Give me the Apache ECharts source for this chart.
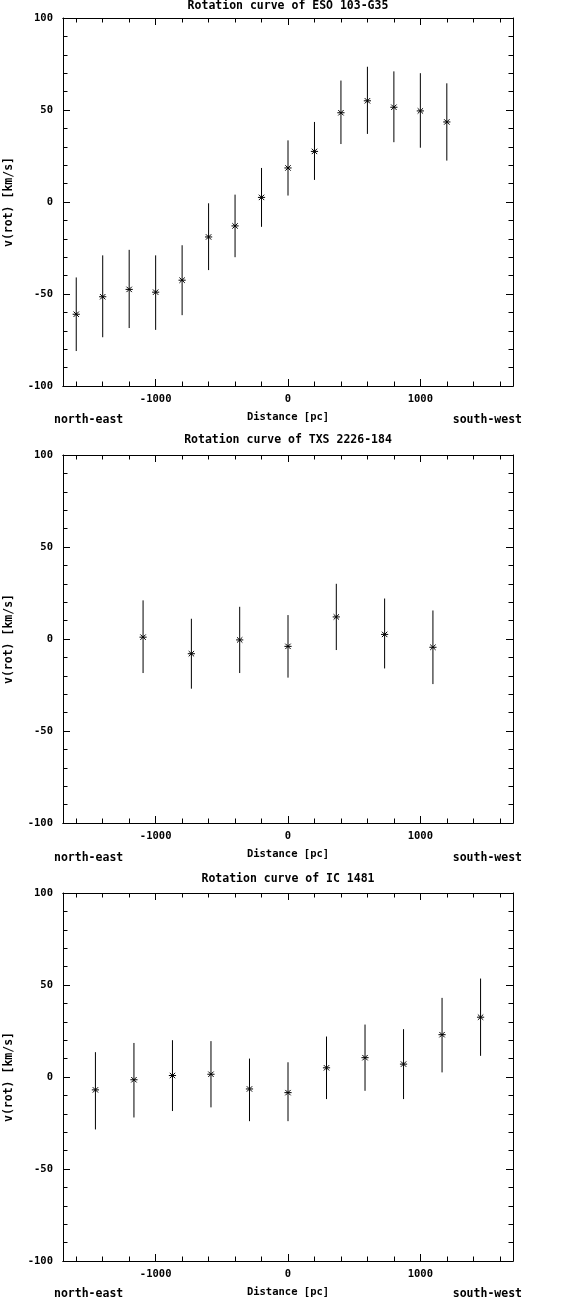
<!doctype html>
<html>
    <head>
        <meta charset="utf-8">
        <title>Rotation curves</title>
        <style>
            html, body { margin: 0; padding: 0; background: #fff; }
            #main { width: 582px; height: 1299px; }
        </style>
    </head>
    <body>
        <div id="main"></div>
        <script src="https://cdn.jsdelivr.net/npm/echarts@6/dist/echarts.min.js"></script>
        <script>

            // ESO 103-G35
            var esoDist = [-1600, -1400, -1200, -1000, -800, -600, -400, -200, 0, 200, 400, 600, 800, 1000, 1200];
            var esoVel  = [-61, -51.5, -47.5, -49, -42.5, -19, -13, 2.5, 18.5, 27.5, 48.5, 55, 51.5, 49.5, 43.5];
            var esoLow  = [-81, -73.5, -68.5, -69.5, -61.5, -37, -30, -13.5, 3.5, 12, 31.5, 37, 32.5, 29.5, 22.5];
            var esoHigh = [-41, -29, -26, -29, -23.5, -0.7, 4, 18.5, 33.5, 43.5, 66, 73.5, 71, 70, 64.5];

            // TXS 2226-184
            var txsDist = [-1095, -730, -365, 0, 365, 730, 1095];
            var txsVel  = [1, -8, -0.5, -4, 12, 2.5, -4.5];
            var txsLow  = [-18.5, -27, -18.5, -21, -6, -16, -24.5];
            var txsHigh = [21, 11, 17.5, 13, 30, 22, 15.5];

            // IC 1481
            var icDist = [-1455, -1164, -873, -582, -291, 0, 291, 582, 873, 1164, 1455];
            var icVel  = [-7, -1.5, 0.8, 1.5, -6.5, -8.5, 5, 10.5, 7, 23, 32.5];
            var icLow  = [-28.5, -22, -18.5, -16.5, -24, -24, -12, -7.5, -12, 2.5, 11.5];
            var icHigh = [13.5, 18.5, 20, 19.5, 10, 8, 22, 28.5, 26, 43, 53.5];

            var titles = ['Rotation curve of ESO 103-G35', 'Rotation curve of TXS 2226-184', 'Rotation curve of IC 1481'];
            var xMajorTicks = [-1000, 0, 1000];
            var xMinorTicks = [-1600, -1400, -1200, -1000, -800, -600, -400, -200, 0, 200, 400, 600, 800, 1000, 1200, 1400, 1600];

            var panels = [
                { dist: esoDist, vel: esoVel, low: esoLow, high: esoHigh, top: 18, titleTop: 0, noteY: 414 },
                { dist: txsDist, vel: txsVel, low: txsLow, high: txsHigh, top: 455, titleTop: 434, noteY: 852 },
                { dist: icDist, vel: icVel, low: icLow, high: icHigh, top: 893, titleTop: 873, noteY: 1288 }
            ];

            var font = '"DejaVu Sans Mono", "Liberation Mono", monospace';
            var ink = '#000';

            function renderItem(params, api) {
                var c = api.coord([api.value(0), api.value(1)]);
                var lo = api.coord([api.value(0), api.value(2)]);
                var hi = api.coord([api.value(0), api.value(3)]);
                var r = 3.6, d = 2.7;
                var st = { stroke: ink, lineWidth: 1 };
                function ln(x1, y1, x2, y2) {
                    return { type: 'line', shape: { x1: x1, y1: y1, x2: x2, y2: y2 }, style: st };
                }
                return {
                    type: 'group',
                    children: [
                        ln(lo[0], lo[1], hi[0], hi[1]),
                        ln(c[0] - r, c[1], c[0] + r, c[1]),
                        ln(c[0] - d, c[1] - d, c[0] + d, c[1] + d),
                        ln(c[0] - d, c[1] + d, c[0] + d, c[1] - d)
                    ]
                };
            }

            function plain(v) { return String(v); }

            var grid = [], xAxis = [], yAxis = [], series = [], title = [], graphic = [];

            panels.forEach(function(p, i) {
                grid.push({ left: 63, right: 69, top: p.top, height: 368, containLabel: false, outerBoundsMode: 'none' });

                title.push({
                    text: titles[i], left: 288, top: p.titleTop, textAlign: 'center', padding: 0,
                    textStyle: { fontFamily: font, fontWeight: 'bold', fontSize: 11.5, color: ink }
                });

                var xBase = {
                    gridIndex: i, type: 'value', min: -1700, max: 1700,
                    splitLine: { show: false },
                    axisLine: { onZero: false, lineStyle: { color: ink, width: 1 } }
                };
                // bottom: labels + long ticks
                xAxis.push(Object.assign({}, xBase, {
                    position: 'bottom',
                    name: 'Distance [pc]', nameLocation: 'middle', nameGap: 26,
                    nameTextStyle: { fontFamily: font, fontWeight: 'bold', fontSize: 10.5, color: ink },
                    axisTick: { inside: true, length: 7, customValues: xMajorTicks, lineStyle: { color: ink } },
                    axisLabel: { customValues: xMajorTicks, formatter: plain, margin: 8, fontFamily: font, fontWeight: 'bold', fontSize: 10.5, color: ink }
                }));
                xAxis.push(Object.assign({}, xBase, {
                    position: 'bottom',
                    axisTick: { inside: true, length: 4.5, customValues: xMinorTicks, lineStyle: { color: ink } },
                    axisLabel: { show: false }
                }));
                xAxis.push(Object.assign({}, xBase, {
                    position: 'top',
                    axisTick: { inside: true, length: 7, customValues: xMajorTicks, lineStyle: { color: ink } },
                    axisLabel: { show: false }
                }));
                xAxis.push(Object.assign({}, xBase, {
                    position: 'top',
                    axisTick: { inside: true, length: 4.5, customValues: xMinorTicks, lineStyle: { color: ink } },
                    axisLabel: { show: false }
                }));

                var yBase = {
                    gridIndex: i, type: 'value', min: -100, max: 100, interval: 50,
                    splitLine: { show: false },
                    axisLine: { show: true, onZero: false, lineStyle: { color: ink, width: 1 } },
                    axisTick: { show: true, inside: true, length: 7, lineStyle: { color: ink } },
                    minorTick: { show: true, splitNumber: 5, length: 4.5, lineStyle: { color: ink } }
                };
                yAxis.push(Object.assign({}, yBase, {
                    position: 'left',
                    name: 'v(rot) [km/s]', nameLocation: 'middle', nameGap: 48,
                    nameTextStyle: { fontFamily: font, fontWeight: 'bold', fontSize: 11.5, color: ink },
                    axisLabel: { margin: 10, formatter: plain, fontFamily: font, fontWeight: 'bold', fontSize: 10.5, color: ink }
                }));
                yAxis.push(Object.assign({}, yBase, {
                    position: 'right',
                    axisLabel: { show: false }
                }));

                series.push({
                    type: 'custom',
                    xAxisIndex: i * 4,
                    yAxisIndex: i * 2,
                    renderItem: renderItem,
                    silent: true,
                    data: p.dist.map(function(d, k) {
                        return [d, p.vel[k], p.low[k], p.high[k]];
                    })
                });

                graphic.push({
                    type: 'text', left: 54, top: p.noteY,
                    style: { text: 'north-east', fill: ink, font: 'bold 11.5px ' + font }
                });
                graphic.push({
                    type: 'text', right: 60, top: p.noteY,
                    style: { text: 'south-west', fill: ink, font: 'bold 11.5px ' + font }
                });
            });

            var myChart = echarts.init(document.getElementById('main'));
            myChart.setOption({
                animation: false,
                backgroundColor: '#fff',
                title: title,
                grid: grid,
                xAxis: xAxis,
                yAxis: yAxis,
                series: series,
                graphic: graphic
            });

        </script>
    </body>
</html>
